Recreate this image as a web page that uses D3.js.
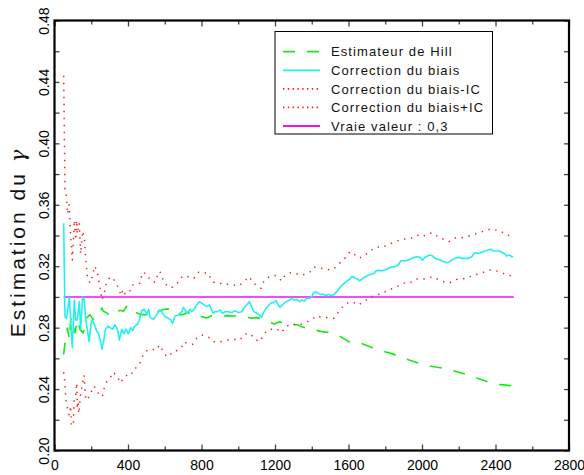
<!DOCTYPE html>
<html><head><meta charset="utf-8">
<script src="https://cdn.jsdelivr.net/npm/d3@7"></script>
<style>body{margin:0;background:#fff}</style>
</head><body>
<svg id="c" width="584" height="475"></svg>
<script>
// ---- data ----
const hillK = [50,57,70,81,88,102,112,124,139,157,175,193,211,230,244,257,266,284,300,316,338,356,375,393,411,425,447,474,502,520,547,565,592,619,632,665,701,728,746,783,810,828,855,873,910,937,973,1009,1046,1073,1100,1127,1195,1224,1245,1264,1322,1345,1363,1391,1454,1490,1523,1586,1608,1654,1717,1744,1781,1848,1880,1913,1975,2007,2044,2107,2134,2171,2238,2270,2303,2365,2397,2430,2497];
const hillV = [0.2625,0.2701,0.2798,0.2722,0.2852,0.2863,0.2766,0.2852,0.2787,0.2766,0.2863,0.2885,0.2852,0.2870,0.2885,0.2928,0.2907,0.2896,0.2880,0.2874,0.2900,0.2913,0.2907,0.2939,0.2944,0.2918,0.2896,0.2885,0.2885,0.2892,0.2918,0.2907,0.2918,0.2922,0.2896,0.2885,0.2885,0.2900,0.2880,0.2870,0.2870,0.2863,0.2878,0.2874,0.2874,0.2878,0.2876,0.2876,0.2868,0.2862,0.2865,0.2860,0.2824,0.2839,0.2828,0.2819,0.2819,0.2806,0.2800,0.2793,0.2774,0.2769,0.2765,0.2720,0.2704,0.2704,0.2676,0.2661,0.2650,0.2626,0.2611,0.2596,0.2572,0.2563,0.2550,0.2537,0.2533,0.2520,0.2496,0.2481,0.2470,0.2444,0.2433,0.2429,0.2420];

const corrK = [50,57,66,81,88,97,108,115,124,135,142,153,162,170,179,188,202,215,229,240,251,258,266,277,293,302,317,329,342,353,366,378,389,402,415,425,436,451,462,474,487,502,512,520,538,556,571,583,601,620,632,643,656,674,692,701,710,723,737,746,756,774,788,801,814,828,843,855,864,873,886,901,915,928,946,964,982,1000,1019,1031,1046,1060,1073,1086,1100,1115,1127,1136,1151,1164,1176,1191,1205,1218,1227,1240,1255,1273,1291,1304,1318,1333,1345,1358,1373,1387,1400,1409,1423,1436,1449,1463,1478,1490,1503,1518,1527,1539,1554,1572,1590,1608,1617,1626,1636,1648,1659,1672,1685,1699,1712,1726,1739,1750,1763,1781,1799,1812,1826,1841,1853,1871,1884,1898,1916,1935,1953,1971,1989,2004,2016,2029,2044,2058,2071,2083,2098,2112,2134,2149,2161,2180,2198,2216,2234,2252,2270,2288,2307,2325,2343,2361,2375,2388,2403,2415,2428,2439,2452,2461,2475,2488,2497];
const corrV = [0.348,0.287,0.286,0.300,0.285,0.267,0.298,0.285,0.285,0.297,0.279,0.300,0.298,0.285,0.279,0.271,0.285,0.283,0.278,0.276,0.271,0.266,0.270,0.279,0.281,0.280,0.279,0.282,0.279,0.272,0.279,0.276,0.279,0.276,0.280,0.278,0.281,0.282,0.285,0.291,0.292,0.289,0.292,0.2867,0.2854,0.2883,0.2915,0.2904,0.2872,0.2861,0.2850,0.2828,0.2876,0.2883,0.2904,0.2933,0.2915,0.2894,0.2920,0.2904,0.2915,0.2948,0.2969,0.2959,0.2948,0.2937,0.2948,0.2915,0.2894,0.2904,0.2904,0.2915,0.2894,0.2904,0.2904,0.2898,0.2911,0.2898,0.2904,0.2926,0.2948,0.2969,0.2937,0.2904,0.2894,0.2883,0.2867,0.2894,0.2926,0.2941,0.2959,0.2963,0.2976,0.2948,0.2933,0.2947,0.2965,0.2975,0.2991,0.2980,0.2984,0.2969,0.2980,0.2973,0.2991,0.2991,0.3001,0.3028,0.3032,0.3023,0.3015,0.3017,0.3008,0.3017,0.3010,0.3012,0.3023,0.3038,0.3062,0.3084,0.3103,0.3117,0.3132,0.3132,0.3121,0.3117,0.3106,0.3114,0.3127,0.3136,0.3143,0.3149,0.3153,0.3171,0.3171,0.3171,0.3175,0.3183,0.3192,0.3196,0.3197,0.3208,0.3234,0.3236,0.3236,0.3245,0.3255,0.3262,0.3258,0.3240,0.3258,0.3266,0.3273,0.3266,0.3251,0.3247,0.3240,0.3232,0.3223,0.3229,0.3240,0.3251,0.3258,0.3251,0.3251,0.3251,0.3262,0.3288,0.3284,0.3290,0.3299,0.3305,0.3310,0.3301,0.3299,0.3299,0.3295,0.3288,0.3280,0.3266,0.3273,0.3262,0.3262];

const lowK = [50,57,61,66,79,88,92,103,106,115,121,124,128,133,142,152,161,170,179,215,233,260,269,288,306,320,342,360,378,396,418,429,447,465,478,491,514,556,571,610,629,647,668,692,705,723,737,752,774,801,828,846,864,892,919,946,977,1009,1037,1064,1091,1118,1133,1155,1182,1206,1236,1255,1285,1322,1345,1369,1400,1423,1454,1485,1521,1545,1572,1599,1623,1654,1681,1714,1744,1777,1807,1840,1871,1907,1938,1967,1998,2025,2058,2088,2119,2152,2185,2215,2246,2279,2310,2342,2373,2402,2433,2460,2497];
const lowV = [0.251,0.243,0.235,0.230,0.223,0.229,0.216,0.217,0.233,0.236,0.244,0.229,0.232,0.224,0.237,0.243,0.249,0.233,0.233,0.242,0.238,0.235,0.240,0.246,0.248,0.251,0.248,0.244,0.248,0.249,0.249,0.253,0.254,0.257,0.261,0.264,0.266,0.2655,0.2687,0.2611,0.2629,0.2629,0.2655,0.2672,0.2707,0.2698,0.2692,0.2692,0.2731,0.2752,0.2746,0.2731,0.2709,0.2705,0.2713,0.2720,0.2724,0.2720,0.2759,0.2763,0.2724,0.2709,0.2742,0.2781,0.2789,0.2795,0.2769,0.2802,0.2824,0.2819,0.2824,0.2835,0.2850,0.2876,0.2867,0.2865,0.2861,0.2900,0.2941,0.2963,0.2967,0.2947,0.2969,0.2991,0.3015,0.3019,0.3038,0.3056,0.3071,0.3093,0.3095,0.3117,0.3114,0.3121,0.3132,0.3114,0.3099,0.3093,0.3114,0.3117,0.3121,0.3143,0.3149,0.3164,0.3175,0.3171,0.3158,0.3143,0.3136];

const upK = [50,57,64,70,79,84,88,97,108,115,121,124,135,142,153,162,170,179,193,211,215,230,242,251,258,270,284,297,315,333,353,360,375,384,397,415,427,447,465,478,502,520,547,560,574,583,601,620,643,668,698,719,741,759,783,806,832,850,864,892,915,941,970,1006,1037,1060,1078,1104,1124,1136,1164,1191,1209,1236,1255,1285,1314,1340,1363,1391,1412,1445,1478,1509,1532,1563,1590,1608,1630,1659,1690,1721,1753,1786,1817,1848,1880,1907,1938,1971,2003,2029,2058,2088,2119,2148,2185,2215,2246,2279,2310,2342,2373,2402,2433,2460,2497];
const upV = [0.444,0.370,0.366,0.354,0.360,0.350,0.340,0.324,0.350,0.337,0.350,0.341,0.348,0.328,0.343,0.339,0.324,0.313,0.309,0.315,0.320,0.318,0.310,0.304,0.298,0.302,0.310,0.312,0.313,0.309,0.305,0.301,0.305,0.302,0.304,0.304,0.308,0.308,0.309,0.316,0.315,0.311,0.3095,0.3137,0.3167,0.3132,0.3089,0.3063,0.3063,0.3089,0.3137,0.3132,0.3132,0.3121,0.3160,0.3154,0.3158,0.3121,0.3095,0.3095,0.3082,0.3082,0.3078,0.3074,0.3106,0.3132,0.3095,0.3071,0.3056,0.3095,0.3128,0.3141,0.3137,0.3104,0.3141,0.3158,0.3152,0.3141,0.3147,0.3163,0.3195,0.3189,0.3180,0.3176,0.3195,0.3234,0.3262,0.3295,0.3278,0.3252,0.3273,0.3302,0.3325,0.3325,0.3338,0.3358,0.3371,0.3377,0.3381,0.3403,0.3392,0.3410,0.3418,0.3392,0.3375,0.3360,0.3386,0.3386,0.3392,0.3407,0.3418,0.3431,0.3442,0.3435,0.3425,0.3403,0.3396];

const trueK = [50,2500];
const trueV = [0.3,0.3];

const xTickVals = [0,200,400,600,800,1000,1200,1400,1600,1800,2000,2200,2400,2600,2800];
const xLabelVals = [0,400,800,1200,1600,2000,2400,2800];
const yTickVals = [0.20,0.22,0.24,0.26,0.28,0.30,0.32,0.34,0.36,0.38,0.40,0.42,0.44,0.46,0.48];
const yLabelVals = [0.20,0.24,0.28,0.32,0.36,0.40,0.44,0.48];
const legendLabels = ["Estimateur de Hill","Correction du biais","Correction du biais-IC","Correction du biais+IC","Vraie valeur : 0,3"];
const yTitle = "Estimation du ";
const yTitleSym = "γ";

// ---- drawing ----
const svg = d3.select("#c");
svg.append("rect").attr("width",584).attr("height",475).attr("fill","#fff");
const L=54.5, R=569, T=20.5, B=450.5;
const x = d3.scaleLinear().domain([0,2800]).range([L,R]);
const y = d3.scaleLinear().domain([0.20,0.48]).range([B,T]);
const FONT = "'Liberation Sans', Arial, sans-serif";

const styles = [
  {color:"#18e818", width:1.6, dash:"12,12"},
  {color:"#22f0f0", width:1.6, dash:null},
  {color:"#ff1a1a", width:1.5, dash:"1.4,5.6"},
  {color:"#ff1a1a", width:1.5, dash:"1.4,5.6"},
  {color:"#ee11ee", width:1.6, dash:null}
];
const seriesData = [
  d3.zip(hillK,hillV), d3.zip(corrK,corrV), d3.zip(lowK,lowV), d3.zip(upK,upV), d3.zip(trueK,trueV)
];
const line = d3.line().x(d=>x(d[0])).y(d=>y(d[1]));
const order = [0,2,3,4,1];
order.forEach(i=>{
  svg.append("path").datum(seriesData[i]).attr("d",line)
    .attr("fill","none").attr("stroke",styles[i].color).attr("stroke-width",styles[i].width)
    .attr("stroke-dasharray",styles[i].dash).attr("stroke-linejoin","round");
});

// axes
const tickColor = "#444";
const gB = svg.append("g").attr("transform",`translate(0,${B})`)
  .call(d3.axisBottom(x).tickValues(xTickVals).tickSize(-6).tickPadding(10)
    .tickFormat(d=> xLabelVals.includes(d) ? String(d) : ""));
const gT = svg.append("g").attr("transform",`translate(0,${T})`)
  .call(d3.axisTop(x).tickValues(xTickVals).tickSize(-6).tickFormat(""));
const gL = svg.append("g").attr("transform",`translate(${L},0)`)
  .call(d3.axisLeft(y).tickValues(yTickVals).tickSize(-5)
    .tickFormat(d=> yLabelVals.some(v=>Math.abs(v-d)<1e-9) ? d3.format(".2f")(d) : ""));
const gR = svg.append("g").attr("transform",`translate(${R},0)`)
  .call(d3.axisRight(y).tickValues(yTickVals).tickSize(-5).tickFormat(""));
[gB,gT,gL,gR].forEach(g=>{
  g.select(".domain").remove();
  g.selectAll(".tick line").attr("stroke",tickColor).attr("stroke-width",1.3);
  g.selectAll("text").attr("font-family",FONT).attr("font-size",14).attr("fill","#000");
});
gB.selectAll(".tick line").attr("y2", d=> xLabelVals.includes(d) ? -6 : -4);
gT.selectAll(".tick line").attr("y2", d=> xLabelVals.includes(d) ? 6 : 4);
gL.selectAll(".tick text").attr("x",null).attr("dy",null).attr("text-anchor","middle")
  .attr("transform","translate(-5.2,0) rotate(-90)");

// frame
svg.append("rect").attr("x",L).attr("y",T).attr("width",R-L).attr("height",B-T)
  .attr("fill","none").attr("stroke","#000").attr("stroke-width",2.2);

// y title
const tt = svg.append("text").attr("transform","translate(25,242) rotate(-90)")
  .attr("text-anchor","middle").attr("font-family",FONT).attr("font-size",21)
  .attr("letter-spacing","3px").attr("fill","#111");
tt.append("tspan").text(yTitle);
tt.append("tspan").attr("font-style","italic").attr("font-family","'DejaVu Serif', serif").text(yTitleSym);

// legend
const lg = svg.append("g");
lg.append("rect").attr("x",275).attr("y",31.5).attr("width",217.5).attr("height",102.5)
  .attr("fill","#fff").attr("stroke","#000").attr("stroke-width",1);
const rowY = d3.scalePoint().domain(d3.range(legendLabels.length)).range([51.7,126]);
legendLabels.forEach((lab,i)=>{
  const yy = rowY(i);
  lg.append("line").attr("x1",283).attr("x2",i===0?319:320).attr("y1",yy).attr("y2",yy)
    .attr("stroke",styles[i].color).attr("stroke-width",1.8)
    .attr("stroke-dasharray", i===0 ? "12,12" : (styles[i].dash ? "1.4,3.4" : null));
  lg.append("text").attr("x",331).attr("y",yy).attr("dy","0.36em")
    .attr("font-family",FONT).attr("font-size",13).attr("letter-spacing","1.1px")
    .attr("fill","#111").text(lab);
});
</script>
</body></html>
